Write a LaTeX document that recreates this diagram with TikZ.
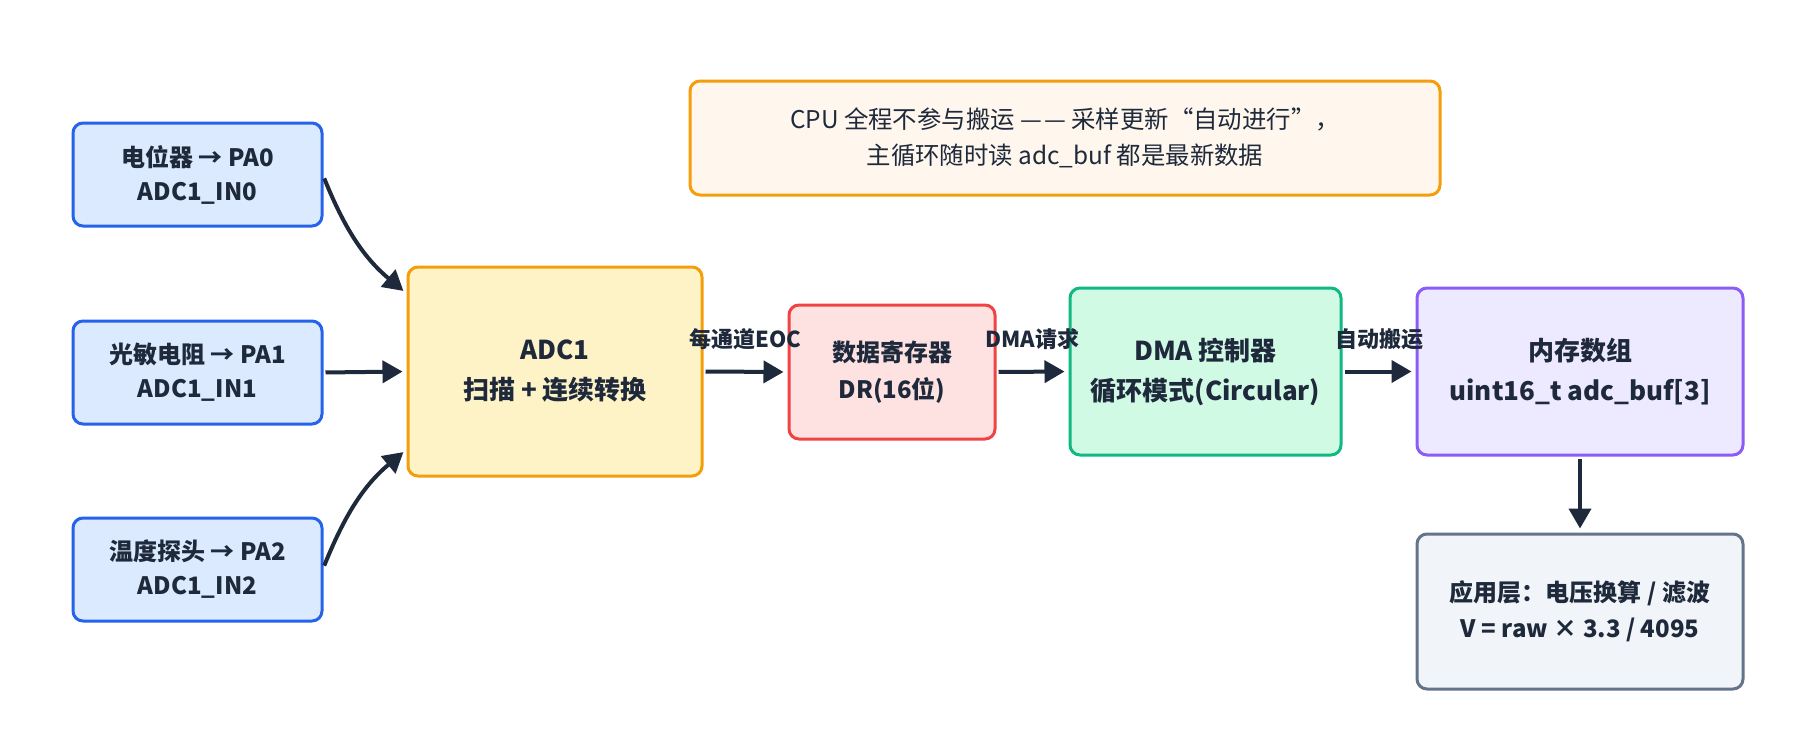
\documentclass[tikz,border=0pt]{standalone}
\usepackage{fontspec}
\setmainfont{Noto Sans CJK SC}
\usetikzlibrary{arrows.meta,positioning,calc}
\definecolor{ink}{HTML}{1E293B}
\definecolor{inF}{HTML}{DBEAFE}\definecolor{inD}{HTML}{2563EB}
\definecolor{adF}{HTML}{FEF3C7}\definecolor{adD}{HTML}{F59E0B}
\definecolor{drF}{HTML}{FEE2E2}\definecolor{drD}{HTML}{EF4444}
\definecolor{dmF}{HTML}{D1FAE5}\definecolor{dmD}{HTML}{10B981}
\definecolor{meF}{HTML}{EDE9FE}\definecolor{meD}{HTML}{8B5CF6}
\definecolor{apF}{HTML}{F1F5F9}\definecolor{apD}{HTML}{64748B}
\definecolor{ntF}{HTML}{FFF7ED}\definecolor{ntD}{HTML}{F59E0B}
\tikzset{
  box/.style={draw, line width=1.5pt, rounded corners=5pt, align=center,
    text=ink, font=\fontsize{12}{17}\selectfont\bfseries, inner sep=0pt},
  bigbox/.style={box, font=\fontsize{13}{20}\selectfont\bfseries},
  conn/.style={draw=ink, line width=2pt, -{Triangle[length=10pt,width=11pt]},
    shorten >=2pt, shorten <=1pt},
  elabel/.style={text=ink, font=\fontsize{11}{13}\selectfont\bfseries, inner sep=0pt},
}
\begin{document}
\begin{tikzpicture}[x=0.5pt,y=0.5pt]
\useasboundingbox[fill=white] (0,0) rectangle (1816,-745);
\node[box, fill=inF, draw=inD, minimum width=124.5pt, minimum height=51.5pt] (b1) at (197.5,-174.5) {电位器 → PA0\\ADC1\_IN0};
\node[box, fill=inF, draw=inD, minimum width=124.5pt, minimum height=51.5pt] (b2) at (197.5,-372.5) {光敏电阻 → PA1\\ADC1\_IN1};
\node[box, fill=inF, draw=inD, minimum width=124.5pt, minimum height=51.5pt] (b3) at (197.5,-569.5) {温度探头 → PA2\\ADC1\_IN2};
\node[bigbox, fill=adF, draw=adD, minimum width=147pt, minimum height=104.5pt] (adc) at (555,-371.5) {ADC1\\扫描 + 连续转换};
\node[box, fill=drF, draw=drD, minimum width=103pt, minimum height=67pt, font=\fontsize{12}{18.5}\selectfont\bfseries] (dr) at (892,-372) {数据寄存器\\DR(16位)};
\node[bigbox, fill=dmF, draw=dmD, minimum width=135.5pt, minimum height=83.5pt] (dma) at (1205.5,-371.5) {DMA 控制器\\循环模式(Circular)};
\node[bigbox, fill=meF, draw=meD, minimum width=163pt, minimum height=83.5pt] (mem) at (1580,-371.5) {内存数组\\uint16\_t adc\_buf[3]};
\node[box, fill=apF, draw=apD, minimum width=163pt, minimum height=77.5pt, font=\fontsize{12}{18}\selectfont\bfseries] (app) at (1580,-611.5) {应用层：电压换算 / 滤波\\V = raw × 3.3 / 4095};
\node[box, fill=ntF, draw=ntD, minimum width=375pt, minimum height=57pt, font=\fontsize{12.2}{18}\selectfont] (note) at (1065,-138) {CPU 全程不参与搬运 —\kern1pt— 采样更新“自动进行”，\\主循环随时读 adc\_buf 都是最新数据};
\draw[conn] ([yshift=-1pt]b1.east) to[out=-68,in=140] ([yshift=39pt]adc.west);
\draw[conn] (b2.east) -- (adc.west);
\draw[conn] ([yshift=1pt]b3.east) to[out=68,in=-140] ([yshift=-39pt]adc.west);
\draw[conn] (adc.east) -- node[elabel, above=10pt] (l1) {每通道EOC} (dr.west);
\draw[conn] (dr.east) -- node[elabel, above=10pt] (l2) {DMA请求} (dma.west);
\draw[conn] (dma.east) -- node[elabel, above=10pt] (l3) {自动搬运} (mem.west);
\draw[conn] (mem.south) -- (app.north);
\end{tikzpicture}
\end{document}
